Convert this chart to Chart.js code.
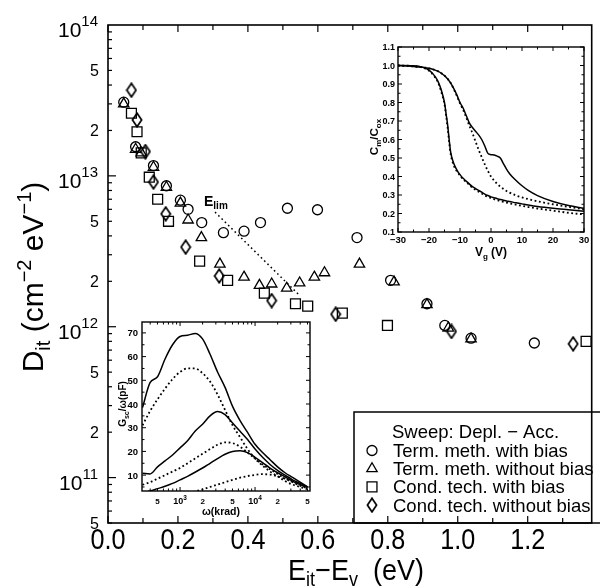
<!DOCTYPE html>
<html>
<head>
<meta charset="utf-8">
<script src="https://cdn.jsdelivr.net/npm/chart.js@4.4.1/dist/chart.umd.min.js"></script>
<style>
  html, body { margin: 0; padding: 0; background: #fff; }
  #wrap { position: relative; width: 600px; height: 586px; }
  #main { position: absolute; left: 0; top: 0; }
  #cv { position: absolute; left: 352px; top: 36px; }
  #gw { position: absolute; left: 112px; top: 314px; }
</style>
</head>
<body>
<div id="wrap">
  <canvas id="main" width="600" height="586"></canvas>
  <canvas id="cv" width="240" height="228"></canvas>
  <canvas id="gw" width="205" height="203"></canvas>
</div>
<script>
// ---- main plot: D_it vs E_it - E_v ----
var termBiasE = [0.045, 0.079, 0.13, 0.167, 0.207, 0.229, 0.268, 0.33, 0.389, 0.436, 0.513, 0.599, 0.712, 0.808, 0.912, 0.963, 1.038, 1.219];
var termBiasD = [3.08e13, 1.56e13, 1.17e13, 8.6e12, 6.9e12, 6.0e12, 4.9e12, 4.2e12, 4.3e12, 4.9e12, 6.1e12, 5.96e12, 3.9e12, 2.03e12, 1.42e12, 1.02e12, 8.4e11, 7.8e11];
var termNoBiasE = [0.045, 0.079, 0.095, 0.13, 0.167, 0.207, 0.229, 0.267, 0.32, 0.389, 0.433, 0.468, 0.511, 0.548, 0.59, 0.619, 0.719, 0.818, 0.912, 0.973, 1.038];
var termNoBiasD = [3.0e13, 1.5e13, 1.42e13, 1.14e13, 8.4e12, 6.6e12, 5.1e12, 3.9e12, 2.6e12, 2.13e12, 1.88e12, 1.92e12, 1.8e12, 1.95e12, 2.13e12, 2.28e12, 2.6e12, 1.98e12, 1.4e12, 9.8e11, 8.3e11];
var condBiasE = [0.067, 0.083, 0.095, 0.118, 0.142, 0.173, 0.262, 0.342, 0.447, 0.536, 0.571, 0.67, 0.799, 1.367];
var condBiasD = [2.6e13, 1.96e13, 1.42e13, 9.8e12, 7.0e12, 5.0e12, 2.72e12, 2.03e12, 1.67e12, 1.42e12, 1.37e12, 1.23e12, 1.02e12, 8.0e11];
var condNoBiasE = [0.067, 0.083, 0.107, 0.13, 0.165, 0.222, 0.318, 0.468, 0.651, 0.982, 1.33];
var condNoBiasD = [3.7e13, 2.35e13, 1.45e13, 9.1e12, 5.6e12, 3.37e12, 2.17e12, 1.49e12, 1.21e12, 9.3e11, 7.7e11];
var elimE = [0.306, 0.548];
var elimD = [5.75e12, 1.61e12];

var seriesNames = ['Term. meth. with bias', 'Term. meth. without bias', 'Cond. tech. with bias', 'Cond. tech. without bias'];
var legendTitle = 'Sweep: Depl. \u2212 Acc.';
var xTickVals = [0, 0.2, 0.4, 0.6, 0.8, 1.0, 1.2];
var xTickText = ['0.0', '0.2', '0.4', '0.6', '0.8', '1.0', '1.2'];
var yTickVals = [5e10, 1e11, 2e11, 5e11, 1e12, 2e12, 5e12, 1e13, 2e13, 5e13, 1e14];

// ---- top right inset: C/Cox vs Vg ----
var vg = [-30, -25, -22, -20, -18, -17, -16, -15, -14.5, -14, -13.5, -13, -12, -11, -10, -9, -8, -7, -6, -5, -4, -3, -2, -1, 0, 1, 2, 3, 4, 5, 6, 8, 10, 12, 15, 20, 25, 30];
var cvSolidA = [1.0, 0.998, 0.99, 0.975, 0.94, 0.91, 0.865, 0.80, 0.74, 0.68, 0.60, 0.53, 0.47, 0.435, 0.41, 0.39, 0.375, 0.36, 0.345, 0.335, 0.325, 0.315, 0.305, 0.297, 0.29, 0.285, 0.28, 0.276, 0.272, 0.268, 0.265, 0.258, 0.252, 0.246, 0.238, 0.228, 0.22, 0.212];
var cvDotA = [1.0, 0.997, 0.988, 0.972, 0.935, 0.905, 0.855, 0.79, 0.73, 0.665, 0.585, 0.52, 0.46, 0.428, 0.405, 0.385, 0.37, 0.355, 0.34, 0.328, 0.318, 0.308, 0.298, 0.29, 0.283, 0.277, 0.272, 0.267, 0.263, 0.259, 0.255, 0.248, 0.241, 0.235, 0.227, 0.215, 0.204, 0.195];
var cvSolidB = [1.0, 0.995, 0.99, 0.985, 0.975, 0.968, 0.958, 0.945, 0.937, 0.928, 0.917, 0.905, 0.875, 0.84, 0.80, 0.77, 0.73, 0.69, 0.665, 0.645, 0.625, 0.60, 0.565, 0.525, 0.518, 0.516, 0.51, 0.50, 0.47, 0.44, 0.415, 0.38, 0.35, 0.325, 0.297, 0.265, 0.243, 0.228];
var cvDotB = [1.0, 0.995, 0.99, 0.985, 0.975, 0.968, 0.958, 0.945, 0.937, 0.928, 0.917, 0.905, 0.872, 0.835, 0.795, 0.76, 0.72, 0.675, 0.635, 0.59, 0.545, 0.505, 0.465, 0.43, 0.40, 0.378, 0.36, 0.345, 0.333, 0.322, 0.313, 0.298, 0.287, 0.278, 0.266, 0.25, 0.236, 0.222];
var cvXTicks = [-30, -20, -10, 0, 10, 20, 30];
var cvYTicks = [0.1, 0.2, 0.3, 0.4, 0.5, 0.6, 0.7, 0.8, 0.9, 1.0, 1.1];

// ---- bottom left inset: G/w vs w ----
var omega = [316, 398, 501, 631, 794, 1000, 1259, 1585, 1995, 2512, 3162, 3981, 5012, 6310, 7943, 10000, 12589, 15849, 19953, 25119, 31623, 39811, 50119];
var gSolid1 = [38.5, 49, 51.5, 59, 65, 68.5, 69, 69.8, 67.5, 61, 53.5, 47, 39, 33, 28, 23, 19.5, 16.5, 13.5, 11, 9, 7, 5];
var gDot1 = [31, 37, 42, 46.5, 50.5, 53.5, 55, 55, 53, 49.5, 44, 37.5, 31, 26, 21, 17, 14, 11.5, 9.5, 7.5, 6, 5, 4];
var gSolid2 = [10.8, 10.5, 13.5, 16, 18.5, 21.5, 24.5, 28.5, 31.5, 35, 36.8, 35.5, 32, 28.5, 25, 21, 17.5, 14.5, 12, 10, 8, 6.5, 5];
var gDot2 = [5.9, 7, 8.5, 10, 11.5, 13, 15, 17, 19, 21, 22.8, 23.8, 23.5, 22, 19.5, 17, 14.5, 12.5, 10.5, 8.5, 7, 5.5, 4.5];
var gSolid3 = [2.5, 3.3, 4.3, 5.3, 6.5, 8, 9.5, 11.2, 13, 15, 17, 18.8, 20, 20.3, 19.5, 17.5, 15.3, 13, 11, 9.3, 7.5, 6, 4.7];
var gDot3 = [null, null, null, null, null, 1.8, 2.5, 3.1, 4.0, 5.0, 6.0, 7.0, 8.0, 8.9, 9.6, 10.1, 10.4, 10.2, 9.5, 8.5, 7.3, 6.0, 5.0];
var gwXTicks = [500, 1000, 2000, 5000, 10000, 20000, 50000];
var gwYTicks = [10, 20, 30, 40, 50, 60, 70];

var FAM = '"Liberation Sans", Arial, sans-serif';

function pts(xs, ys) {
  return xs.map(function (x, i) { return { x: x, y: ys[i] }; });
}

function textW(ctx, p) {
  ctx.font = (p.b ? 'bold ' : '') + p.s + 'px ' + FAM;
  return ctx.measureText(p.t).width;
}

// draws text made of pieces (sub/superscripts via dy)
function rich(ctx, parts, x, y, o) {
  o = o || {};
  ctx.save();
  ctx.translate(x, y);
  if (o.rot) ctx.rotate(o.rot);
  ctx.scale(o.sx || 1, 1);
  var w = 0;
  parts.forEach(function (p) { w += textW(ctx, p); });
  var cx = o.align === 'center' ? -w / 2 : (o.align === 'right' ? -w : 0);
  ctx.fillStyle = '#000';
  ctx.textAlign = 'left';
  ctx.textBaseline = 'alphabetic';
  parts.forEach(function (p) {
    var pw = textW(ctx, p);
    ctx.fillText(p.t, cx, p.dy || 0);
    cx += pw;
  });
  ctx.restore();
}

function seg(ctx, x1, y1, x2, y2) {
  ctx.beginPath();
  ctx.moveTo(x1, y1);
  ctx.lineTo(x2, y2);
  ctx.stroke();
}

function setTicks(list) {
  return function (s) { s.ticks = list.map(function (v) { return { value: v }; }); };
}

// elongated diamond marker
var diamond = document.createElement('canvas');
diamond.width = 12;
diamond.height = 16;
(function () {
  var c = diamond.getContext('2d');
  c.strokeStyle = '#000';
  c.lineWidth = 1.7;
  c.beginPath();
  c.moveTo(6, 1.2); c.lineTo(10.6, 8); c.lineTo(6, 14.8); c.lineTo(1.4, 8);
  c.closePath();
  c.stroke();
})();

var mainDeco = {
  id: 'mainDeco',
  afterDraw: function (chart) {
    var ctx = chart.ctx, a = chart.chartArea, xs = chart.scales.x, ys = chart.scales.y;
    ctx.save();
    ctx.strokeStyle = '#000';
    ctx.lineWidth = 1.6;
    ctx.strokeRect(a.left, a.top, a.right - a.left, a.bottom - a.top);
    ctx.lineWidth = 1.2;
    for (var i = 0; i <= 13; i++) {
      var px = xs.getPixelForValue(i / 10);
      var len = i % 2 === 0 ? 7 : 5;
      seg(ctx, px, a.bottom, px, a.bottom - len);
      seg(ctx, px, a.top, px, a.top + len);
    }
    for (var e = 10; e <= 13; e++) {
      for (var m = 1; m <= 9; m++) {
        var v = m * Math.pow(10, e);
        if (v < 5e10) continue;
        var py = ys.getPixelForValue(v);
        seg(ctx, a.left, py, a.left + (m === 1 ? 8 : 4), py);
      }
    }
    // tick labels
    xs.ticks.forEach(function (t, k) {
      rich(ctx, [{ t: xTickText[k], s: 30 }], xs.getPixelForValue(t.value), 549, { align: 'center', sx: 0.84 });
    });
    ys.ticks.forEach(function (t) {
      var e = Math.floor(Math.log10(t.value) + 1e-9);
      var m = Math.round(t.value / Math.pow(10, e));
      var py = ys.getPixelForValue(t.value);
      if (m === 1) {
        rich(ctx, [{ t: '10', s: 21 }, { t: String(e), s: 15, dy: -11 }], 98, py + 12, { align: 'right' });
      } else {
        rich(ctx, [{ t: String(m), s: 16 }], 99, py + 6, { align: 'right' });
      }
    });
    // axis titles
    rich(ctx, [{ t: 'E', s: 30 }, { t: 'it', s: 20, dy: 6 }, { t: '\u2212E', s: 30 }, { t: 'v', s: 20, dy: 6 }, { t: '  (eV)', s: 30 }],
      356, 580, { align: 'center', sx: 0.9 });
    rich(ctx, [{ t: 'D', s: 30 }, { t: 'it', s: 20, dy: 7 }, { t: ' (cm', s: 30 }, { t: '\u22122', s: 20, dy: -12 },
      { t: ' eV', s: 30 }, { t: '\u22121', s: 20, dy: -12 }, { t: ')', s: 30 }],
      43, 277, { align: 'center', rot: -Math.PI / 2 });
    // E_lim label
    rich(ctx, [{ t: 'E', s: 14, b: true }, { t: 'lim', s: 10, b: true, dy: 3 }], 204, 206, {});
    // legend
    ctx.lineWidth = 1.5;
    ctx.strokeRect(354, 412, 260, 111);
    rich(ctx, [{ t: legendTitle, s: 18.5 }], 392, 438, {});
    var H = Chart.helpers;
    chart.data.datasets.slice(0, 4).forEach(function (ds, k) {
      var cy = 450.5 + k * 18.2;
      ctx.strokeStyle = '#000';
      ctx.fillStyle = 'rgba(0,0,0,0)';
      ctx.lineWidth = 1.3;
      H.drawPoint(ctx, { pointStyle: ds.pointStyle, radius: ds.pointRadius, borderWidth: 1.3, rotation: 0 }, 372, cy);
      rich(ctx, [{ t: ds.label, s: 18.5 }], 393, cy + 6.5, {});
    });
    ctx.restore();
  }
};

var common = {
  responsive: false,
  animation: false,
  events: [],
  plugins: { legend: { display: false }, tooltip: { enabled: false } }
};

function marker(label, xs, ys, style, r) {
  return {
    label: label, data: pts(xs, ys), pointStyle: style, pointRadius: r,
    borderColor: '#000', backgroundColor: 'rgba(0,0,0,0)', pointBorderWidth: 1.3, showLine: false
  };
}

new Chart(document.getElementById('main'), {
  type: 'scatter',
  data: {
    datasets: [
      marker(seriesNames[0], termBiasE, termBiasD, 'circle', 5),
      marker(seriesNames[1], termNoBiasE, termNoBiasD, 'triangle', 6),
      marker(seriesNames[2], condBiasE, condBiasD, 'rect', 7),
      marker(seriesNames[3], condNoBiasE, condNoBiasD, diamond, 7),
      { label: 'E_lim', data: pts(elimE, elimD), showLine: true, pointRadius: 0, borderColor: '#000',
        borderWidth: 1.5, borderDash: [1.6, 3] }
    ]
  },
  options: Object.assign({}, common, {
    layout: { padding: { top: 25, right: 1, left: 0, bottom: 0 } },
    scales: {
      x: { type: 'linear', min: 0, max: 1.383, grid: { display: false }, border: { display: false },
        ticks: { display: false }, afterBuildTicks: setTicks(xTickVals), afterFit: function (s) { s.height = 63; } },
      y: { type: 'logarithmic', min: 5e10, max: 1e14, grid: { display: false }, border: { display: false },
        ticks: { display: false }, afterBuildTicks: setTicks(yTickVals), afterFit: function (s) { s.width = 108; } }
    }
  }),
  plugins: [mainDeco]
});

// ---- inset: C/Cox vs Vg ----
var cvDeco = {
  id: 'cvDeco',
  afterDraw: function (chart) {
    var ctx = chart.ctx, a = chart.chartArea, xs = chart.scales.x, ys = chart.scales.y;
    ctx.save();
    ctx.strokeStyle = '#000';
    ctx.lineWidth = 1.4;
    ctx.strokeRect(a.left, a.top, a.right - a.left, a.bottom - a.top);
    ctx.lineWidth = 1;
    for (var v = -30; v <= 30; v += 5) {
      var px = xs.getPixelForValue(v), l = v % 10 === 0 ? 4 : 2.5;
      seg(ctx, px, a.bottom, px, a.bottom - l);
      seg(ctx, px, a.top, px, a.top + l);
    }
    for (var c = 2; c <= 22; c++) {
      var py = ys.getPixelForValue(c / 20), l2 = c % 2 === 0 ? 4 : 2.5;
      seg(ctx, a.left, py, a.left + l2, py);
      seg(ctx, a.right, py, a.right - l2, py);
    }
    xs.ticks.forEach(function (t) {
      var s = t.value < 0 ? '\u2212' + Math.abs(t.value) : String(t.value);
      rich(ctx, [{ t: s, s: 9.5, b: true }], xs.getPixelForValue(t.value), a.bottom + 11, { align: 'center' });
    });
    ys.ticks.forEach(function (t) {
      rich(ctx, [{ t: t.value.toFixed(1), s: 9, b: true }], a.left - 3, ys.getPixelForValue(t.value) + 3.2, { align: 'right' });
    });
    rich(ctx, [{ t: 'V', s: 12, b: true }, { t: 'g', s: 8, b: true, dy: 3 }, { t: ' (V)', s: 12, b: true }],
      (a.left + a.right) / 2, a.bottom + 24, { align: 'center' });
    rich(ctx, [{ t: 'C', s: 11.5, b: true }, { t: 'm', s: 8, b: true, dy: 2.5 }, { t: '/C', s: 11.5, b: true }, { t: 'ox', s: 8, b: true, dy: 2.5 }],
      a.left - 20, 101, { align: 'center', rot: -Math.PI / 2 });
    ctx.restore();
  }
};

function curve(xs, ys, dotted) {
  return {
    data: pts(xs, ys), borderColor: '#000', borderWidth: dotted ? 1.8 : 1.5, pointRadius: 0,
    borderDash: dotted ? [1.8, 2.6] : [], cubicInterpolationMode: 'monotone', fill: false, spanGaps: false
  };
}

new Chart(document.getElementById('cv'), {
  type: 'line',
  data: {
    datasets: [
      curve(vg, cvSolidA, false),
      curve(vg, cvDotA, true),
      curve(vg, cvSolidB, false),
      curve(vg, cvDotB, true)
    ]
  },
  options: Object.assign({}, common, {
    layout: { padding: { top: 11, right: 8, left: 0, bottom: 0 } },
    scales: {
      x: { type: 'linear', min: -30, max: 30, grid: { display: false }, border: { display: false },
        ticks: { display: false }, afterBuildTicks: setTicks(cvXTicks), afterFit: function (s) { s.height = 32; } },
      y: { type: 'linear', min: 0.1, max: 1.1, grid: { display: false }, border: { display: false },
        ticks: { display: false }, afterBuildTicks: setTicks(cvYTicks), afterFit: function (s) { s.width = 46; } }
    }
  }),
  plugins: [cvDeco]
});

// ---- inset: G/w vs w ----
var gwDeco = {
  id: 'gwDeco',
  afterDraw: function (chart) {
    var ctx = chart.ctx, a = chart.chartArea, xs = chart.scales.x, ys = chart.scales.y;
    ctx.save();
    ctx.strokeStyle = '#000';
    ctx.lineWidth = 1.4;
    ctx.strokeRect(a.left, a.top, a.right - a.left, a.bottom - a.top);
    ctx.lineWidth = 1;
    for (var e = 2; e <= 4; e++) {
      for (var m = 1; m <= 9; m++) {
        var v = m * Math.pow(10, e);
        if (v < xs.min || v > xs.max) continue;
        var px = xs.getPixelForValue(v), l = m === 1 ? 4 : 2.5;
        seg(ctx, px, a.bottom, px, a.bottom - l);
        seg(ctx, px, a.top, px, a.top + l);
      }
    }
    for (var g = 5; g <= 70; g += 5) {
      var py = ys.getPixelForValue(g), l2 = g % 10 === 0 ? 4 : 2.5;
      seg(ctx, a.left, py, a.left + l2, py);
      seg(ctx, a.right, py, a.right - l2, py);
    }
    xs.ticks.forEach(function (t) {
      var e2 = Math.floor(Math.log10(t.value) + 1e-9);
      var m2 = Math.round(t.value / Math.pow(10, e2));
      var px2 = xs.getPixelForValue(t.value);
      if (m2 === 1) {
        rich(ctx, [{ t: '10', s: 9, b: true }, { t: String(e2), s: 6.5, b: true, dy: -4 }], px2, a.bottom + 13, { align: 'center' });
      } else {
        rich(ctx, [{ t: String(m2), s: 8, b: true }], px2, a.bottom + 13, { align: 'center' });
      }
    });
    ys.ticks.forEach(function (t) {
      rich(ctx, [{ t: String(t.value), s: 9.5, b: true }], a.left - 4, ys.getPixelForValue(t.value) + 3.5, { align: 'right' });
    });
    rich(ctx, [{ t: '\u03c9(krad)', s: 10.5, b: true }], (a.left + a.right) / 2 - 5, a.bottom + 24, { align: 'center' });
    rich(ctx, [{ t: 'G', s: 10, b: true }, { t: 'sc', s: 7, b: true, dy: 2.5 }, { t: '/\u03c9(pF)', s: 10, b: true }],
      a.left - 16, 90, { align: 'center', rot: -Math.PI / 2 });
    ctx.restore();
  }
};

new Chart(document.getElementById('gw'), {
  type: 'line',
  data: {
    datasets: [
      curve(omega, gSolid1, false),
      curve(omega, gDot1, true),
      curve(omega, gSolid2, false),
      curve(omega, gDot2, true),
      curve(omega, gSolid3, false),
      curve(omega, gDot3, true)
    ]
  },
  options: Object.assign({}, common, {
    layout: { padding: { top: 8, right: 7, left: 0, bottom: 0 } },
    scales: {
      x: { type: 'logarithmic', min: 311, max: 54000, grid: { display: false }, border: { display: false },
        ticks: { display: false }, afterBuildTicks: setTicks(gwXTicks), afterFit: function (s) { s.height = 26; } },
      y: { type: 'linear', min: 3.3, max: 74.6, grid: { display: false }, border: { display: false },
        ticks: { display: false }, afterBuildTicks: setTicks(gwYTicks), afterFit: function (s) { s.width = 30; } }
    }
  }),
  plugins: [gwDeco]
});
</script>
</body>
</html>
